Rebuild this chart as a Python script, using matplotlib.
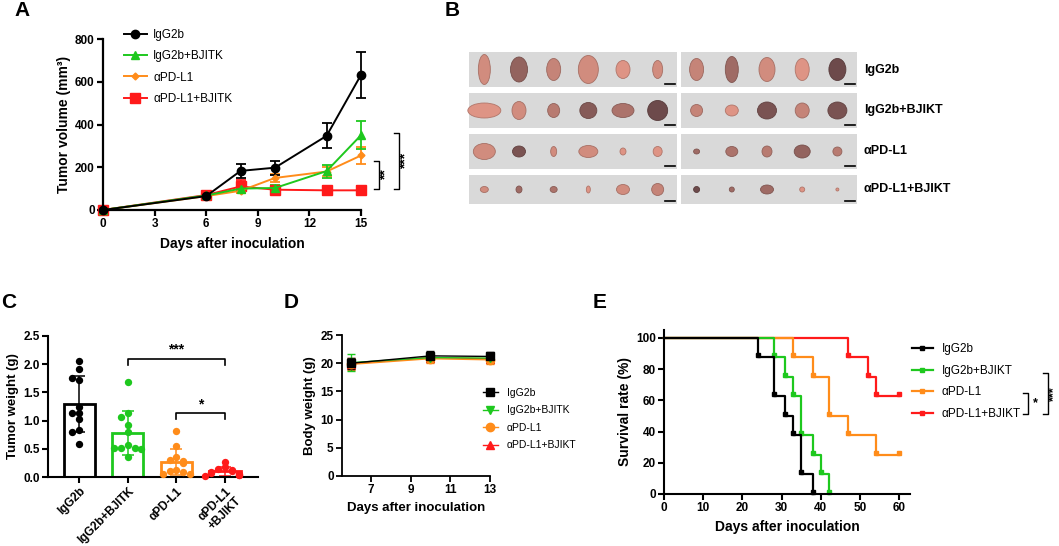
import numpy as np
import matplotlib
matplotlib.use("Agg")
import matplotlib.pyplot as plt
from matplotlib.lines import Line2D
from matplotlib.patches import Ellipse, Rectangle

plt.rcParams['font.family'] = ['Liberation Sans', 'DejaVu Sans']
plt.rcParams['font.weight'] = 'bold'
plt.rcParams['axes.labelweight'] = 'bold'

W, H = 1059, 546
BLACK, GREEN, ORANGE, RED = '#000000', '#1ec81e', '#ff8c1a', '#ff1a1a'

# ---- A: tumor volume ----
days_a = [0, 6, 8, 10, 13, 15]
vol_igg = [0, 65, 183, 198, 347, 632]
err_igg = [0, 8, 33, 33, 58, 107]
vol_igg_bj = [0, 68, 100, 103, 182, 350]
err_igg_bj = [0, 6, 10, 12, 30, 65]
vol_pd = [0, 65, 90, 150, 180, 255]
err_pd = [0, 6, 12, 18, 20, 38]
vol_pd_bj = [0, 70, 110, 95, 92, 92]
err_pd_bj = [0, 8, 30, 18, 20, 18]
labels_a = ['IgG2b', 'IgG2b+BJITK', 'αPD-L1', 'αPD-L1+BJITK']

# ---- B: tumor photos (approx. sizes in px, darkness 0..1) ----
row_labels_b = ['IgG2b', 'IgG2b+BJIKT', 'αPD-L1', 'αPD-L1+BJIKT']
tumor_w = [[12, 17, 14, 20, 14, 10, 14, 13, 16, 14, 17],
           [33, 14, 12, 17, 22, 20, 12, 13, 19, 14, 19],
           [22, 13, 6, 19, 6, 9, 6, 12, 10, 16, 9],
           [8, 6, 7, 4, 13, 12, 6, 5, 13, 5, 3]]
tumor_h = [[30, 25, 22, 28, 18, 18, 22, 26, 24, 22, 22],
           [15, 18, 14, 16, 14, 20, 12, 11, 17, 15, 17],
           [16, 11, 10, 12, 7, 10, 5, 10, 11, 13, 9],
           [6, 7, 6, 7, 10, 12, 6, 5, 9, 5, 3]]
tumor_dark = [[0.1, 0.6, 0.2, 0.1, 0.0, 0.1, 0.2, 0.5, 0.1, 0.0, 0.9],
              [0.0, 0.1, 0.3, 0.7, 0.4, 0.9, 0.2, 0.0, 0.8, 0.2, 0.8],
              [0.1, 0.8, 0.1, 0.1, 0.0, 0.0, 0.5, 0.4, 0.3, 0.6, 0.3],
              [0.1, 0.5, 0.4, 0.0, 0.1, 0.2, 0.9, 0.5, 0.5, 0.0, 0.0]]

# ---- C: tumor weight ----
groups_c = ['IgG2b', 'IgG2b+BJITK', 'αPD-L1', 'αPD-L1\n+BJIKT']
w_igg = [2.05, 1.92, 1.72, 1.76, 1.25, 1.13, 1.13, 1.02, 0.83, 0.80, 0.59]
w_igg_bj = [1.68, 1.13, 1.07, 0.93, 0.80, 0.56, 0.52, 0.52, 0.52, 0.50, 0.35]
w_pd = [0.81, 0.55, 0.35, 0.30, 0.28, 0.25, 0.12, 0.10, 0.08, 0.05, 0.05]
w_pd_bj = [0.27, 0.18, 0.14, 0.12, 0.10, 0.08, 0.07, 0.05, 0.04, 0.03, 0.02]

# ---- D: body weight ----
days_d = [6, 10, 13]
bw_igg = [20.0, 21.3, 21.2]
bw_igg_bj = [20.1, 21.0, 20.9]
bw_pd = [19.8, 20.8, 20.6]
bw_pd_bj = [19.9, 21.0, 20.8]
bw_err = [[1.0, 0.8, 0.8], [1.5, 0.8, 0.8], [1.0, 0.7, 0.7], [1.0, 0.8, 0.8]]
labels_d = ['IgG2b', 'IgG2b+BJITK', 'αPD-L1', 'αPD-L1+BJIKT']

# ---- E: survival ----
t_igg = [0, 24, 28, 31, 33, 35, 38]
s_igg = [100, 87.5, 62.5, 50, 37.5, 12.5, 0]
t_igg_bj = [0, 28, 31, 33, 35, 38, 40, 42]
s_igg_bj = [100, 87.5, 75, 62.5, 37.5, 25, 12.5, 0]
t_pd = [0, 33, 38, 42, 47, 54, 60]
s_pd = [100, 87.5, 75, 50, 37.5, 25, 25]
t_pd_bj = [0, 47, 52, 54, 60]
s_pd_bj = [100, 87.5, 75, 62.5, 62.5]
labels_e = ['IgG2b', 'IgG2b+BJIKT', 'αPD-L1', 'αPD-L1+BJIKT']

fig = plt.figure(figsize=(W / 100, H / 100), dpi=100)


def px_axes(l, t, r, b):
    return fig.add_axes([l / W, 1 - b / H, (r - l) / W, (b - t) / H])


def style(ax, lw=1.5, size=8.5):
    for s in ['top', 'right']:
        ax.spines[s].set_visible(False)
    for s in ['left', 'bottom']:
        ax.spines[s].set_linewidth(lw)
    ax.tick_params(width=lw, length=4, labelsize=size, pad=2)


# overlay for panel B and letters
ov = fig.add_axes([0, 0, 1, 1], zorder=-1)
ov.set_xlim(0, W)
ov.set_ylim(H, 0)
ov.axis('off')
for letter, (lx, ly) in zip('ABCDE', [(22, 11), (452, 11), (9, 303), (291, 303), (600, 302)]):
    ov.text(lx, ly, letter, fontsize=15, fontweight='bold', ha='center', va='center')

# ---------- A ----------
ax = px_axes(103, 39, 361, 210)
series_a = [(vol_pd_bj, err_pd_bj, RED, 's', 6.5),
            (vol_pd, err_pd, ORANGE, 'D', 3.5),
            (vol_igg_bj, err_igg_bj, GREEN, '^', 6),
            (vol_igg, err_igg, BLACK, 'o', 6)]
for v, e, c, m, ms in series_a:
    ax.errorbar(days_a, v, yerr=e, color=c, marker=m, ms=ms, lw=1.4,
                capsize=3.5, elinewidth=1.3, capthick=1.3, clip_on=False)
ax.set_xlim(0, 15)
ax.set_ylim(0, 800)
ax.set_xticks([0, 3, 6, 9, 12, 15])
ax.set_yticks([0, 200, 400, 600, 800])
style(ax, 1.6)
ax.set_xlabel('Days after inoculation', fontsize=10, labelpad=5)
ax.set_ylabel('Tumor volume (mm³)', fontsize=10, labelpad=3)
handles = [Line2D([], [], color=c, marker=m, ms=ms, lw=1.4)
           for _, _, c, m, ms in series_a[::-1]]
ax.legend(handles, labels_a, loc='upper left', bbox_to_anchor=(0.08, 1.06),
          frameon=False, prop={'weight': 'normal', 'size': 8.5},
          handlelength=2.0, handletextpad=0.5, labelspacing=0.8,
          borderpad=0, borderaxespad=0)
# significance brackets
for xb, y0, y1, txt in [(16.05, 98, 229, '**'), (17.2, 98, 360, '***')]:
    ax.plot([xb - 0.3, xb, xb, xb - 0.3], [y0, y0, y1, y1], color='k', lw=1, clip_on=False)
    ax.text(xb + 0.4, (y0 + y1) / 2, txt, rotation=90, ha='center', va='center',
            fontsize=10, clip_on=False)

# ---------- B ----------
strip_left = [(469, 677), (681, 857)]
row_tops = [52, 93, 134, 175]
row_bots = [87, 128, 169, 204]
pink = np.array([0.87, 0.58, 0.52])
dark = np.array([0.38, 0.26, 0.27])
for r in range(4):
    y0, y1 = row_tops[r], row_bots[r]
    cy = (y0 + y1) / 2
    idx = 0
    for k, (x0, x1) in enumerate(strip_left):
        ov.add_patch(Rectangle((x0, y0), x1 - x0, y1 - y0, color='#d9d9d9', lw=0))
        n = 6 if k == 0 else 5
        pitch = (x1 - x0) / n
        for j in range(n):
            d = tumor_dark[r][idx]
            col = pink * (1 - d) + dark * d
            cx = x0 + pitch * (j + 0.5) - 2
            ov.add_patch(Ellipse((cx, cy), tumor_w[r][idx], tumor_h[r][idx],
                                 facecolor=col, edgecolor=col * 0.8, lw=0.6))
            idx += 1
        ov.plot([x1 - 12, x1 - 2], [y1 - 3, y1 - 3], color='k', lw=1.2)
    ov.text(864, cy, row_labels_b[r], fontsize=9, fontweight='bold', va='center', ha='left')

# ---------- C ----------
ax = px_axes(48, 336, 258, 477)
cols_c = [BLACK, GREEN, ORANGE, RED]
data_c = [w_igg, w_igg_bj, w_pd, w_pd_bj]
xc = np.arange(4)
means = [np.mean(d) for d in data_c]
sds = [np.std(d, ddof=1) for d in data_c]
ax.bar(xc, means, width=0.64, facecolor='white', edgecolor=cols_c, lw=2, zorder=1)
for i in range(4):
    ax.errorbar(xc[i], means[i], yerr=sds[i], fmt='none', ecolor=cols_c[i],
                capsize=4, elinewidth=1.1, capthick=1.1, zorder=2)
    vals = np.array(data_c[i])
    offs = np.zeros(len(vals))
    placed = []
    pattern = [0, -1, 1, -2, 2, -3, 3]
    for k, v in enumerate(vals):
        n = sum(1 for p in placed if abs(p - v) < 0.07)
        offs[k] = pattern[min(n, 6)] * 0.14
        placed.append(v)
    ax.scatter(xc[i] + offs, vals, s=28, color=cols_c[i], zorder=3, lw=0, clip_on=False)
ax.set_xlim(-0.64, 3.68)
ax.set_ylim(0, 2.5)
ax.set_yticks([0, 0.5, 1.0, 1.5, 2.0, 2.5])
ax.set_yticklabels(['0.0', '0.5', '1.0', '1.5', '2.0', '2.5'])
ax.set_xticks(xc)
ax.set_xticklabels(groups_c, rotation=45, ha='right', rotation_mode='anchor',
                   multialignment='center')
style(ax, 1.5, 8.5)
ax.set_ylabel('Tumor weight (g)', fontsize=9.5, labelpad=3)
for xa, xb2, yb, txt in [(1, 3, 2.09, '***'), (2, 3, 1.13, '*')]:
    ax.plot([xa, xa, xb2, xb2], [yb - 0.11, yb, yb, yb - 0.11], color='k', lw=1.2)
    ax.text((xa + xb2) / 2, yb + 0.04, txt, ha='center', va='bottom', fontsize=10)

# ---------- D ----------
ax = px_axes(342, 335, 490, 476)
series_d = [(bw_pd_bj, bw_err[3], RED, '^', 6),
            (bw_pd, bw_err[2], ORANGE, 'o', 6),
            (bw_igg_bj, bw_err[1], GREEN, 'v', 6),
            (bw_igg, bw_err[0], BLACK, 's', 6)]
for v, e, c, m, ms in series_d:
    ax.errorbar(days_d, v, yerr=e, color=c, marker=m, ms=ms, lw=1,
                capsize=3, elinewidth=1, capthick=1, clip_on=False)
ax.set_xlim(5.54, 13)
ax.set_ylim(0, 25)
ax.set_xticks([7, 9, 11, 13])
ax.set_yticks([0, 5, 10, 15, 20, 25])
style(ax, 1.3, 8.5)
ax.set_xlabel('Days after inoculation', fontsize=9.5, labelpad=4)
ax.set_ylabel('Body weight (g)', fontsize=9.5, labelpad=3)
handles = [Line2D([], [], color=c, marker=m, ms=ms, lw=1) for _, _, c, m, ms in series_d[::-1]]
ax.legend(handles, labels_d, loc='upper left', bbox_to_anchor=(0.95, 0.625),
          frameon=False, prop={'weight': 'normal', 'size': 7.5},
          handlelength=1.5, handletextpad=0.8, labelspacing=0.72,
          borderpad=0, borderaxespad=0)

# ---------- E ----------
ax = px_axes(664, 330, 910, 494)
series_e = [(t_igg, s_igg, BLACK), (t_igg_bj, s_igg_bj, GREEN),
            (t_pd, s_pd, ORANGE), (t_pd_bj, s_pd_bj, RED)]
for t, s, c in series_e[::-1]:
    ax.step(t, s, where='post', color=c, lw=1.6, clip_on=False)
    ax.plot(t[1:], np.array(s[1:]) + 1.5, ls='none', marker='s', ms=2.8, color=c, clip_on=False)
ax.set_xlim(0, 62.8)
ax.set_ylim(0, 105)
ax.set_xticks([0, 10, 20, 30, 40, 50, 60])
ax.set_yticks([0, 20, 40, 60, 80, 100])
style(ax, 1.5, 8.5)
ax.set_xlabel('Days after inoculation', fontsize=10, labelpad=4)
ax.set_ylabel('Survival rate (%)', fontsize=10, labelpad=3)
handles = [Line2D([], [], color=c, lw=1.6, marker='s', ms=2.8) for _, _, c in series_e]
ax.legend(handles, labels_e, loc='upper left', bbox_to_anchor=(1.01, 0.92),
          frameon=False, prop={'weight': 'normal', 'size': 8.5},
          handlelength=1.7, handletextpad=0.8, labelspacing=0.82,
          borderpad=0, borderaxespad=0)
for xb, y0, y1, txt, tx, rot in [(92.9, 51.3, 64.7, '*', 94.9, 0),
                                 (98.0, 51.3, 77.6, '***', 99.5, 90)]:
    ax.plot([xb - 1.2, xb, xb, xb - 1.2], [y0, y0, y1, y1], color='k', lw=1, clip_on=False)
    ax.text(tx, (y0 + y1) / 2, txt, rotation=rot, ha='center', va='center',
            fontsize=9, clip_on=False)

fig.savefig('out.png', dpi=100)
